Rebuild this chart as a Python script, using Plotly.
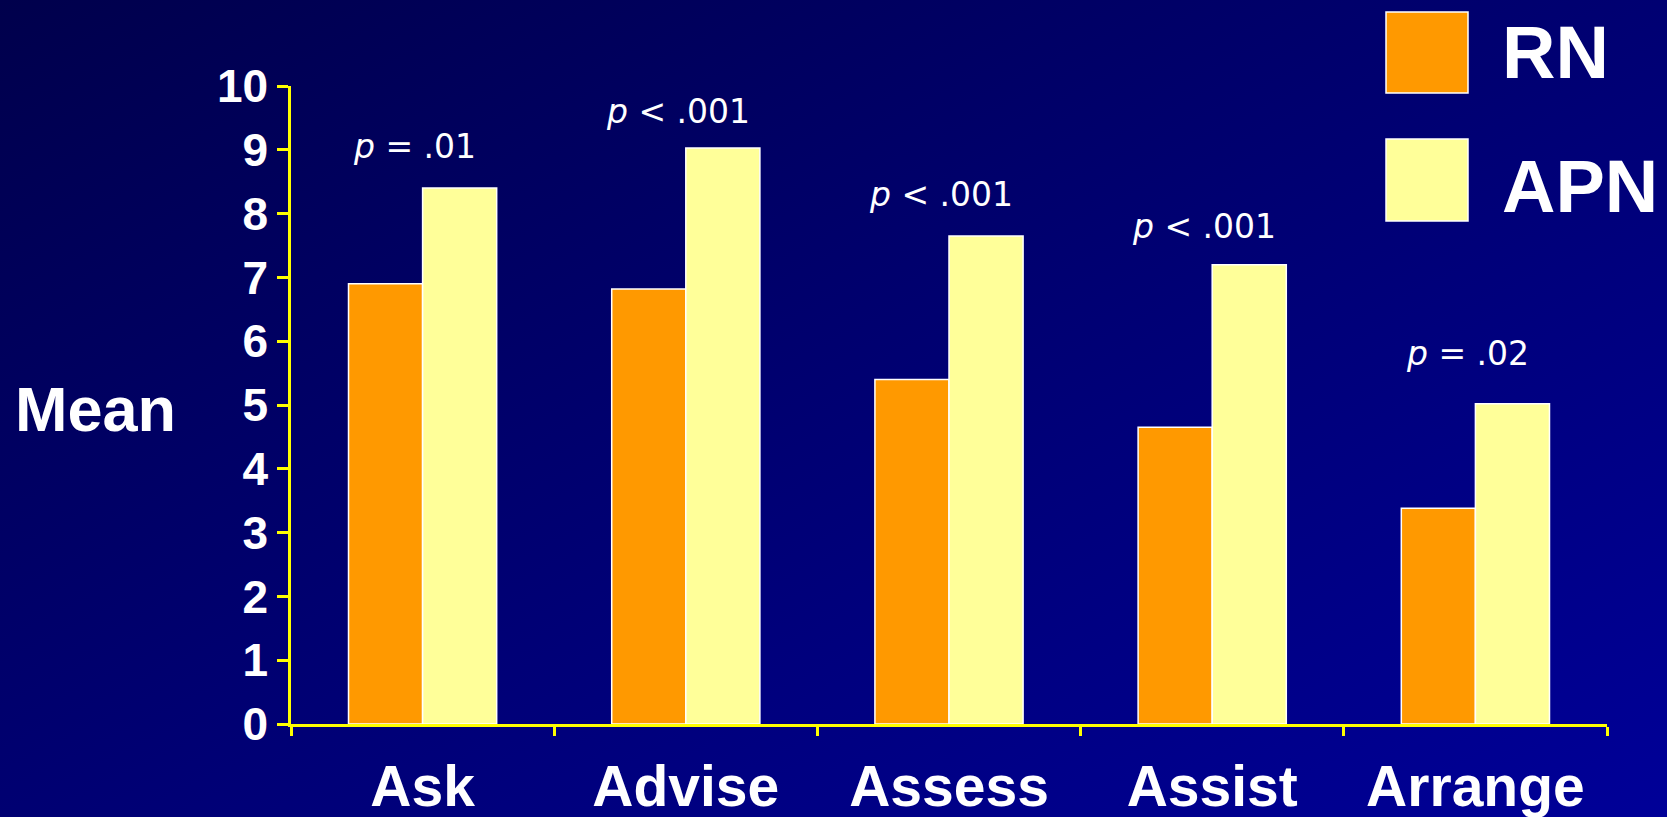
import base64
import plotly.graph_objects as go

categories = ["Ask", "Advise", "Assess", "Assist", "Arrange"]
rn_values = [6.9, 6.82, 5.4, 4.65, 3.38]
apn_values = [8.4, 9.03, 7.65, 7.2, 5.02]
p_labels = ["<i>p</i> = .01", "<i>p</i> < .001", "<i>p</i> < .001", "<i>p</i> < .001", "<i>p</i> = .02"]
p_label_y = [9.05, 9.6, 8.3, 7.8, 5.8]
y_ticks = list(range(0, 11))

FONT = "Arial, Liberation Sans, sans-serif"
PFONT = "DejaVu Sans, Arial, sans-serif"
W, H = 1667, 817
L, R, T, B = 291, 60, 86, 93
PW, PH = W - L - R, H - T - B

fig = go.Figure()
fig.add_trace(go.Bar(name="RN", x=categories, y=rn_values,
                     marker=dict(color="#FF9900", line=dict(color="white", width=1.5)),
                     showlegend=False))
fig.add_trace(go.Bar(name="APN", x=categories, y=apn_values,
                     marker=dict(color="#FFFF99", line=dict(color="white", width=1.5)),
                     showlegend=False))

# diagonal background gradient as an SVG image
svg = ('<svg xmlns="http://www.w3.org/2000/svg" width="1667" height="817" viewBox="0 0 1667 817" '
       'preserveAspectRatio="none">'
       '<defs><linearGradient id="g" x1="0" y1="0" x2="1" y2="1">'
       '<stop offset="0" stop-color="#00004C"/>'
       '<stop offset="1" stop-color="#000098"/>'
       '</linearGradient></defs>'
       '<rect width="1667" height="817" fill="url(#g)"/></svg>')
src = "data:image/svg+xml;base64," + base64.b64encode(svg.encode()).decode()


def px_x(x):
    return (x - L) / PW


def px_y(y):
    return (H - B - y) / PH


images = [dict(source=src, xref="paper", yref="paper", x=px_x(0), y=px_y(0),
               sizex=W / PW, sizey=H / PH, sizing="stretch", layer="below",
               xanchor="left", yanchor="top")]

shapes = []
for (y0, y1), col in [((12, 93), "#FF9900"), ((139, 221), "#FFFF99")]:
    shapes.append(dict(type="rect", xref="paper", yref="paper",
                       x0=px_x(1386), x1=px_x(1468), y0=px_y(y1), y1=px_y(y0),
                       fillcolor=col, line=dict(color="white", width=1.5)))

annotations = []
for cat, lab, yy in zip(categories, p_labels, p_label_y):
    annotations.append(dict(x=cat, y=yy, text=lab, showarrow=False, xshift=-8,
                            font=dict(family=PFONT, size=33, color="white"),
                            xanchor="center", yanchor="middle"))
annotations.append(dict(xref="paper", yref="paper", x=px_x(1500), y=px_y(52),
                        text="<b>RN</b>", showarrow=False, xanchor="left", yanchor="middle",
                        font=dict(family=FONT, size=74, color="white")))
annotations.append(dict(xref="paper", yref="paper", x=px_x(1500), y=px_y(186),
                        text="<b>APN</b>", showarrow=False, xanchor="left", yanchor="middle",
                        font=dict(family=FONT, size=74, color="white")))
annotations.append(dict(xref="paper", yref="paper", x=px_x(13), y=px_y(409),
                        text="<b>Mean</b>", showarrow=False, xanchor="left", yanchor="middle",
                        font=dict(family=FONT, size=63, color="white")))

fig.update_layout(
    width=W, height=H,
    margin=dict(l=L, r=R, t=T, b=B, autoexpand=False),
    paper_bgcolor="#000078",
    plot_bgcolor="rgba(0,0,0,0)",
    barmode="group",
    bargap=0.437,
    bargroupgap=0,
    shapes=shapes,
    images=images,
    annotations=annotations,
    xaxis=dict(showgrid=False, zeroline=False, showline=True, linecolor="#FFFF00", linewidth=2.5,
               ticks="outside", tickson="boundaries", ticklen=9, tickwidth=2.5, tickcolor="#FFFF00",
               tickfont=dict(family=FONT, size=57, color="white", weight="bold"),
               ticklabelstandoff=11, automargin=False),
    yaxis=dict(range=[0, 10], tickvals=y_ticks, showgrid=False, zeroline=False, showline=True,
               linecolor="#FFFF00", linewidth=2.5, ticks="outside", ticklen=11, tickwidth=2.5,
               tickcolor="#FFFF00", automargin=False,
               tickfont=dict(family=FONT, size=46, color="white", weight="bold")),
)

fig.write_html("out.html")
